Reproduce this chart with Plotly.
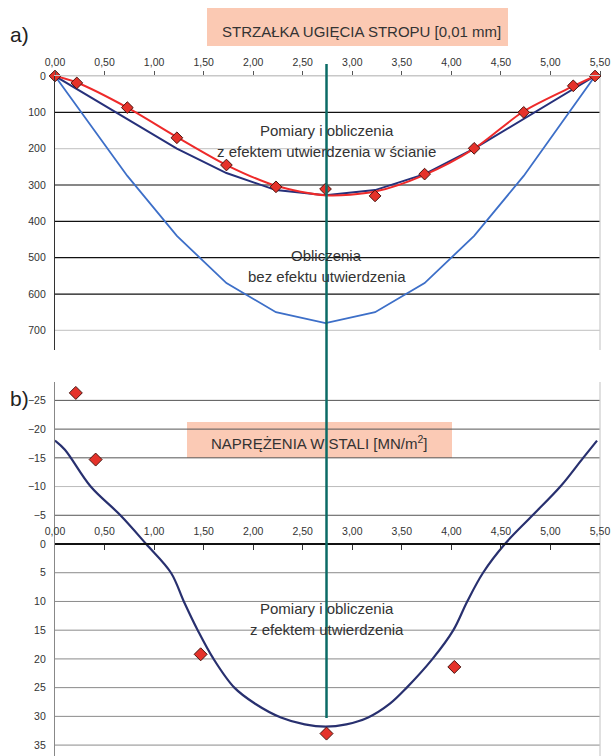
import plotly.graph_objects as go

# ---------------- data ----------------
# panel a) deflection [0,01 mm]
x_meas = [0.0, 0.22, 0.73, 1.23, 1.73, 2.23, 2.73, 3.23, 3.73, 4.23, 4.73, 5.23, 5.45]
defl_measured = [0, 19, 87, 170, 245, 305, 311, 330, 270, 199, 100, 27, 0]
defl_trend = [0, 18, 87, 168, 245, 302, 328, 318, 272, 200, 97, 28, 0]
x_fixed = [0.0, 1.23, 1.73, 2.23, 2.73, 3.23, 3.73, 4.23, 5.45]
defl_fixed = [0, 200, 267, 314, 328, 314, 270, 200, 0]
x_free = [0.0, 0.73, 1.23, 1.73, 2.23, 2.73, 3.23, 3.73, 4.23, 4.73, 5.45]
defl_free = [0, 275, 440, 570, 650, 680, 650, 570, 440, 275, 0]

# panel b) steel stress [MN/m2]
x_stress = [0.0, 0.10, 0.36, 0.66, 0.92, 1.17, 1.30, 1.44, 1.60, 1.81, 2.02, 2.28, 2.52, 2.73,
            2.94, 3.16, 3.38, 3.55, 3.81, 4.02, 4.16, 4.32, 4.54, 4.82, 5.10, 5.33, 5.47]
stress_calc = [-18, -16.4, -10, -5, 0, 5, 10, 15, 20, 25, 27.8, 30.2, 31.4, 31.8,
               31.4, 30.2, 27.8, 25, 20, 15, 10, 5, 0, -5, -10, -15, -18]
x_stress_meas = [0.21, 0.41, 1.47, 2.74, 4.03]
stress_measured = [-26.3, -14.7, 19.2, 33.0, 21.4]

midspan = 2.74

x_ticks = [0, 0.5, 1.0, 1.5, 2.0, 2.5, 3.0, 3.5, 4.0, 4.5, 5.0, 5.5]
x_ticktext = ["0,00", "0,50", "1,00", "1,50", "2,00", "2,50", "3,00", "3,50",
              "4,00", "4,50", "5,00", "5,50"]
top_ticks = [0, 100, 200, 300, 400, 500, 600, 700]
top_grid_colors = ["#c8c8c8", "#111111", "#cccccc", "#111111", "#111111", "#111111", "#111111", "#cccccc"]
bot_ticks = [-25, -20, -15, -10, -5, 0, 5, 10, 15, 20, 25, 30, 35]
bot_grid_colors = ["#555555", "#555555", "#555555", "#bbbbbb", "#555555", None,
                   "#8a8a8a", "#8a8a8a", "#8a8a8a", "#8a8a8a", "#8a8a8a", "#8a8a8a", "#8a8a8a"]

# ---------------- layout helpers ----------------
W, H = 611, 756
ML, MR = 55, 11
PW = W - ML - MR


def py(p):
    return 1 - p / H


def px(p):
    return (p - ML) / PW


top_dom = [py(350), py(76)]
bot_dom = [0.0, py(382)]
top_range = [754, 0]
bot_range = [36.9, -28.2]
x2_pos = bot_dom[0] + (bot_range[0] - 0) / (bot_range[0] - bot_range[1]) * (bot_dom[1] - bot_dom[0])

FONT = "Arial, Liberation Sans, sans-serif"
TXT = "#333333"

fig = go.Figure()

# panel a traces
fig.add_trace(go.Scatter(x=x_free, y=defl_free, mode="lines",
                         line=dict(color="#3d6fc8", width=1.8), xaxis="x", yaxis="y",
                         showlegend=False, cliponaxis=False))
fig.add_trace(go.Scatter(x=x_fixed, y=defl_fixed, mode="lines",
                         line=dict(color="#26307a", width=2), xaxis="x", yaxis="y",
                         showlegend=False, cliponaxis=False))
fig.add_trace(go.Scatter(x=x_meas, y=defl_trend, mode="lines",
                         line=dict(color="#ee2a2a", width=2, shape="spline", smoothing=0.8),
                         xaxis="x", yaxis="y", showlegend=False, cliponaxis=False))
fig.add_trace(go.Scatter(x=x_meas, y=defl_measured, mode="markers",
                         marker=dict(symbol="diamond", size=9, color="#e5322a",
                                     line=dict(color="#4a1510", width=1)),
                         xaxis="x", yaxis="y", showlegend=False, cliponaxis=False))

# panel b traces
fig.add_trace(go.Scatter(x=x_stress, y=stress_calc, mode="lines",
                         line=dict(color="#28306f", width=2.2, shape="spline", smoothing=1.0),
                         xaxis="x2", yaxis="y2", showlegend=False, cliponaxis=False))
fig.add_trace(go.Scatter(x=x_stress_meas, y=stress_measured, mode="markers",
                         marker=dict(symbol="diamond", size=10, color="#e5322a",
                                     line=dict(color="#4a1510", width=1)),
                         xaxis="x2", yaxis="y2", showlegend=False, cliponaxis=False))

shapes = []
# title boxes (as shapes so gridlines / mid-span line can sit over them)
shapes.append(dict(type="rect", xref="paper", yref="paper", x0=px(207), x1=px(508),
                   y0=py(46), y1=py(8), fillcolor="#fbc9b3", line=dict(width=0), layer="below"))
shapes.append(dict(type="rect", xref="paper", yref="paper", x0=px(187), x1=px(452),
                   y0=py(458), y1=py(422), fillcolor="#fbc4ad", opacity=0.9,
                   line=dict(width=0), layer="below"))
# gridlines
for v, c in zip(top_ticks, top_grid_colors):
    shapes.append(dict(type="line", xref="x domain", yref="y", x0=0, x1=1, y0=v, y1=v,
                       line=dict(color=c, width=1.2), layer="below"))
for v, c in zip(bot_ticks, bot_grid_colors):
    if c is None:
        continue
    shapes.append(dict(type="line", xref="x2 domain", yref="y2", x0=0, x1=1, y0=v, y1=v,
                       line=dict(color=c, width=1), layer="below"))
# right borders
shapes.append(dict(type="line", xref="x domain", yref="y domain", x0=1, x1=1, y0=0, y1=1,
                   line=dict(color="#cccccc", width=1.2), layer="below"))
shapes.append(dict(type="line", xref="x2 domain", yref="y2 domain", x0=1, x1=1, y0=0, y1=1,
                   line=dict(color="#cccccc", width=1.2), layer="below"))
# mid-span line
shapes.append(dict(type="line", xref="x", yref="paper", x0=midspan, x1=midspan,
                   y0=py(718), y1=py(64), line=dict(color="#0b6b66", width=2.5), layer="above"))


def ann(text, x, y, xref, yref, size, color=TXT, xanchor="center"):
    return dict(text=text, xref=xref, yref=yref, x=x, y=y, xanchor=xanchor, yanchor="middle",
                showarrow=False, font=dict(size=size, color=color, family=FONT))


annotations = [
    ann("STRZAŁKA UGIĘCIA STROPU [0,01 mm]", px(361), py(31), "paper", "paper", 15),
    ann("NAPRĘŻENIA W STALI [MN/m<sup>2</sup>]", px(319), py(442), "paper", "paper", 15),
    ann("a)", px(8), py(35), "paper", "paper", 21, "#222", "left"),
    ann("b)", px(8), py(398), "paper", "paper", 21, "#222", "left"),
    ann("Pomiary i obliczenia", midspan, 149, "x", "y", 15),
    ann("z efektem utwierdzenia w ścianie", midspan, 208, "x", "y", 15),
    ann("Obliczenia", midspan, 495, "x", "y", 15),
    ann("bez efektu utwierdzenia", midspan, 552, "x", "y", 15),
    ann("Pomiary i obliczenia", midspan, 11.2, "x2", "y2", 15),
    ann("z efektem utwierdzenia", midspan, 14.8, "x2", "y2", 15),
]

tickfont = dict(size=10.5, color=TXT, family=FONT)

fig.update_layout(
    width=W, height=H,
    margin=dict(l=ML, r=MR, t=0, b=0, pad=0, autoexpand=False),
    paper_bgcolor="white", plot_bgcolor="white",
    showlegend=False,
    shapes=shapes, annotations=annotations,
    xaxis=dict(domain=[0, 1], range=[0, 5.5], anchor="y", side="top",
               tickmode="array", tickvals=x_ticks, ticktext=x_ticktext,
               ticks="outside", ticklen=4, tickcolor="#555", tickfont=tickfont,
               showline=True, linecolor="#c8c8c8", linewidth=1,
               showgrid=False, zeroline=False, ticklabelstandoff=1),
    yaxis=dict(domain=top_dom, range=top_range, anchor="x",
               tickmode="array", tickvals=top_ticks, tickfont=tickfont,
               ticks="", showline=True, linecolor="#333", linewidth=1.2,
               showgrid=False, zeroline=False, ticklabelstandoff=6),
    xaxis2=dict(domain=[0, 1], range=[0, 5.5], anchor="free", position=x2_pos, side="top",
                tickmode="array", tickvals=x_ticks, ticktext=x_ticktext,
                ticks="inside", ticklen=5, tickcolor="#333", tickfont=tickfont,
                showline=True, linecolor="#111", linewidth=2,
                showgrid=False, zeroline=False, ticklabelstandoff=4),
    yaxis2=dict(domain=bot_dom, range=bot_range, anchor="x2",
                tickmode="array", tickvals=bot_ticks, tickfont=tickfont,
                ticks="", showline=True, linecolor="#888", linewidth=1.2,
                showgrid=False, zeroline=False, ticklabelstandoff=6),
)

fig.write_html("out.html")
